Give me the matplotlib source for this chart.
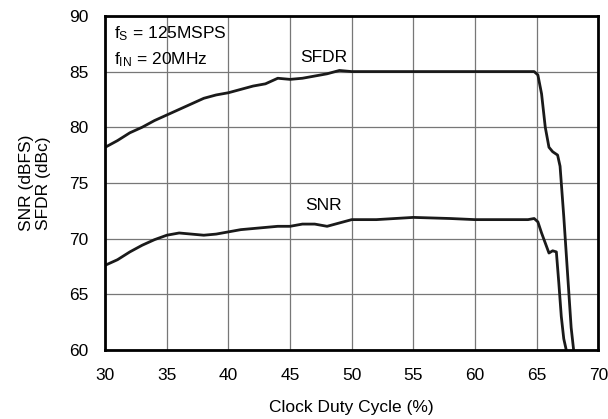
import matplotlib
matplotlib.use("Agg")
import matplotlib.pyplot as plt

plt.rcParams['font.family'] = ['Liberation Sans', 'DejaVu Sans']

sfdr_x = [30, 31, 32, 33, 34, 35, 36, 37, 38, 39, 40, 41, 42, 43, 44, 45, 46, 47, 48, 49, 50,
          55, 60, 64.8, 65.1, 65.4, 65.7, 66.0, 66.3, 66.7, 66.9, 67.2, 67.5, 67.8, 68.0]
sfdr_y = [78.2, 78.8, 79.5, 80.0, 80.6, 81.1, 81.6, 82.1, 82.6, 82.9, 83.1, 83.4, 83.7, 83.9, 84.4, 84.3, 84.4, 84.6, 84.8, 85.1, 85.0,
          85.0, 85.0, 85.0, 84.7, 83.0, 80.0, 78.2, 77.8, 77.5, 76.5, 72.0, 67.0, 62.0, 60.0]
snr_x = [30, 31, 32, 33, 34, 35, 36, 37, 38, 39, 40, 41, 42, 43, 44, 45, 46, 47, 48, 49, 50,
         52, 55, 58, 60, 62, 64.3, 64.8, 65.1, 65.4, 65.7, 66.0, 66.3, 66.6, 66.8, 67.0, 67.2, 67.4]
snr_y = [67.6, 68.1, 68.8, 69.4, 69.9, 70.3, 70.5, 70.4, 70.3, 70.4, 70.6, 70.8, 70.9, 71.0, 71.1, 71.1, 71.3, 71.3, 71.1, 71.4, 71.7,
         71.7, 71.9, 71.8, 71.7, 71.7, 71.7, 71.8, 71.5, 70.5, 69.6, 68.7, 68.9, 68.8, 66.0, 63.0, 61.0, 60.0]

x_ticks = [30, 35, 40, 45, 50, 55, 60, 65, 70]
y_ticks = [60, 65, 70, 75, 80, 85, 90]

fs = 12.5
fig = plt.figure(figsize=(6.08, 4.19), dpi=100)
ax = fig.add_axes([0.173, 0.165, 0.811, 0.797])
ax.plot(sfdr_x, sfdr_y, color='#1a1a1a', lw=2.0)
ax.plot(snr_x, snr_y, color='#1a1a1a', lw=2.0)
ax.set_xlim(30, 70)
ax.set_ylim(60, 90)
ax.set_xticks(x_ticks)
ax.set_yticks(y_ticks)
ax.grid(True, color='#777777', lw=0.9)
ax.set_axisbelow(True)
ax.tick_params(axis='y', length=0, labelsize=fs, pad=12)
ax.tick_params(axis='x', length=0, labelsize=fs, pad=13)
for s in ax.spines.values():
    s.set_linewidth(2.0)
ax.set_xlabel('Clock Duty Cycle (%)', fontsize=fs, labelpad=12)
ax.set_ylabel('SNR (dBFS)\nSFDR (dBc)', fontsize=fs, labelpad=13)
ax.text(47.7, 86.3, 'SFDR', fontsize=fs, ha='center', va='center')
ax.text(47.7, 73.0, 'SNR', fontsize=fs, ha='center', va='center')
ax.text(30.7, 88.4, '$\\mathregular{f_S}$ = 125MSPS', fontsize=fs, ha='left', va='center')
ax.text(30.7, 86.1, '$\\mathregular{f_{IN}}$ = 20MHz', fontsize=fs, ha='left', va='center')
fig.savefig('out.png', dpi=100)
